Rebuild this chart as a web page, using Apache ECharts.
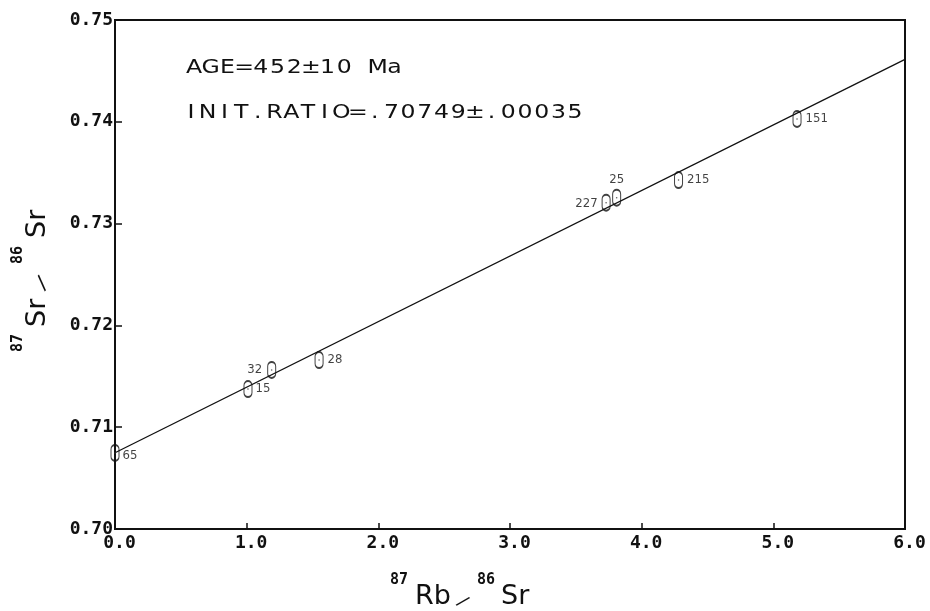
<!DOCTYPE html>
<html>
<head>
<meta charset="utf-8">
<script src="https://cdn.jsdelivr.net/npm/echarts@6/dist/echarts.min.js"></script>
<style>
  html, body { margin: 0; padding: 0; background: #fff; }
  #chart { width: 930px; height: 611px; }
</style>
</head>
<body>
<div id="chart"></div>
<script>
// Rb-Sr whole-rock isochron
const sampleIds = ['65', '15', '32', '28', '227', '25', '215', '151'];
const rbSr = [0.00, 1.01, 1.19, 1.55, 3.73, 3.81, 4.28, 5.18];
const srSr = [0.70747, 0.71375, 0.71562, 0.71660, 0.73205, 0.73254, 0.73428, 0.74028];

// isochron end points
const isoX = [0, 6];
const isoY = [0.70749, 0.74614];

const ageText = 'AGE=452\u00b110 Ma';
const ratioText = 'INIT.RATIO=.70749\u00b1.00035';

// where each sample number sits relative to its symbol
const labelSide = {
  '65': { position: 'right', distance: 3, offset: [0, 3] },
  '15': { position: 'right', distance: 3 },
  '32': { position: 'left', distance: 5 },
  '28': { position: 'right', distance: 4 },
  '227': { position: 'left', distance: 4, offset: [0, 1] },
  '25': { position: 'top', distance: 3 },
  '215': { position: 'right', distance: 4 },
  '151': { position: 'right', distance: 4 }
};

const tickFont = { fontFamily: 'DejaVu Sans Mono', fontWeight: 'bold', fontSize: 18, color: '#111' };
const supFont = 'bold 15px "DejaVu Sans Mono"';
const bigFont = '27px "DejaVu Sans"';

// fixed-pitch annotation lines, glyphs widened like a pen-plotter font
function pitchLine(str, x0, y, pitch) {
  return str.split('').map((ch, i) => ({
    type: 'text',
    x: x0 + pitch * i,
    y: y,
    scaleX: 1.18,
    silent: true,
    style: { text: ch, font: '20px "DejaVu Sans"', fill: '#111', align: 'center', verticalAlign: 'middle' }
  }));
}

function piece(text, x, y, font, rot) {
  return {
    type: 'text', x: x, y: y, rotation: rot || 0, silent: true,
    style: { text: text, font: font, fill: '#111', align: 'left', verticalAlign: 'middle' }
  };
}

const pts = sampleIds.map((id, i) => ({
  name: id,
  value: [rbSr[i], srSr[i]],
  label: Object.assign({}, labelSide[id])
}));

const chart = echarts.init(document.getElementById('chart'), null, { renderer: 'canvas' });

chart.setOption({
  animation: false,
  backgroundColor: '#fff',
  grid: {
    left: 115, right: 25, top: 20, bottom: 82,
    show: true, borderColor: '#111', borderWidth: 2, backgroundColor: 'transparent'
  },
  xAxis: {
    type: 'value', min: 0, max: 6, interval: 1,
    axisLine: { show: true, onZero: false, lineStyle: { color: '#111', width: 2 } },
    axisTick: { show: true, inside: true, length: 6, lineStyle: { color: '#111', width: 1.5 } },
    splitLine: { show: false },
    axisLabel: Object.assign({ margin: 5, padding: [0, 0, 0, 9], formatter: v => v.toFixed(1) }, tickFont)
  },
  yAxis: {
    type: 'value', min: 0.70, max: 0.75, interval: 0.01,
    axisLine: { show: true, onZero: false, lineStyle: { color: '#111', width: 2 } },
    axisTick: { show: true, inside: true, length: 7, lineStyle: { color: '#111', width: 1.5 } },
    splitLine: { show: false },
    axisLabel: Object.assign({ margin: 2, formatter: v => v.toFixed(2) }, tickFont)
  },
  series: [
    {
      type: 'line',
      data: isoX.map((x, i) => [x, isoY[i]]),
      showSymbol: false,
      symbol: 'none',
      lineStyle: { color: '#111', width: 1.3 },
      silent: true,
      z: 2
    },
    {
      type: 'scatter',
      clip: false,
      data: pts,
      symbol: 'path://M0,4 A4,4 0 0 1 8,4 L8,11 A4,4 0 0 1 0,11 Z',
      symbolSize: [8, 16],
      itemStyle: { color: 'rgba(255,255,255,0)', borderColor: '#111', borderWidth: 1.4 },
      label: {
        show: true,
        formatter: p => p.name,
        fontFamily: '"Liberation Sans Narrow", "DejaVu Sans Condensed", "Liberation Sans"',
        fontSize: 13,
        color: '#111'
      },
      z: 3
    },
    {
      type: 'scatter',
      clip: false,
      data: rbSr.map((x, i) => [x, srSr[i]]),
      symbol: 'circle',
      symbolSize: 1.6,
      itemStyle: { color: '#333' },
      silent: true,
      z: 4
    }
  ],
  graphic: [
    { type: 'group', silent: true, children: pitchLine(ageText, 194, 67.5, 16.7) },
    { type: 'group', silent: true, children: pitchLine(ratioText, 191, 112.5, 16.7) },
    {
      type: 'group', x: 390, y: 607, silent: true,
      children: [
        piece('87', 0, -27, supFont),
        piece('Rb', 25, -10, bigFont),
        piece('/', 70, -7, '18px "DejaVu Sans"', -0.75),
        piece('86', 87, -27, supFont),
        piece('Sr', 111, -10, bigFont)
      ]
    },
    {
      type: 'group', x: 48, y: 352, rotation: Math.PI / 2, silent: true,
      children: [
        piece('87', 0, -30, supFont),
        piece('Sr', 25, -10, bigFont),
        piece('/', 66, -8, '20px "DejaVu Sans"', -0.85),
        piece('86', 88, -30, supFont),
        piece('Sr', 114, -10, bigFont)
      ]
    }
  ]
});
</script>
</body>
</html>
